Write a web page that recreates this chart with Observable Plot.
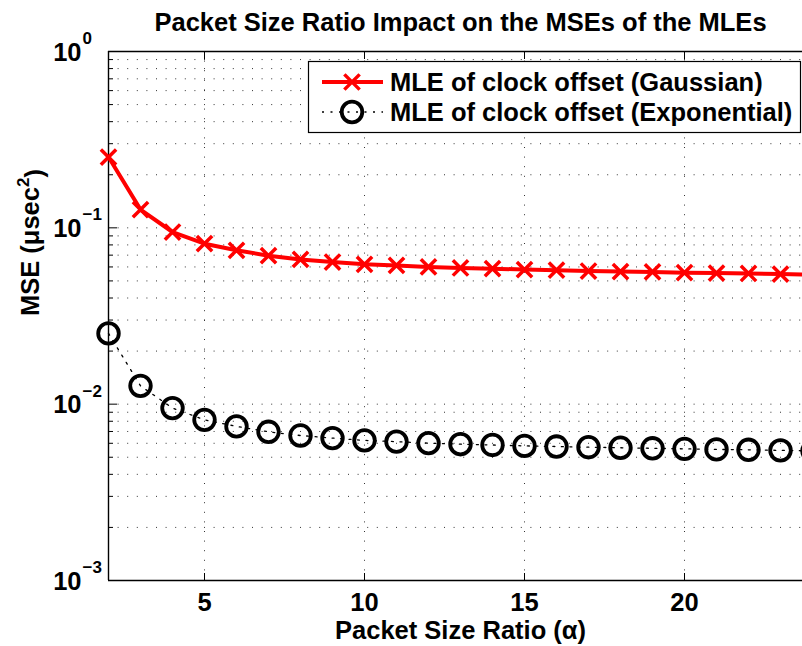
<!DOCTYPE html>
<html>
<head>
<meta charset="utf-8">
<script src="https://cdn.jsdelivr.net/npm/d3@7"></script>
<script src="https://cdn.jsdelivr.net/npm/@observablehq/plot@0.6"></script>
<style>
  html, body { margin: 0; padding: 0; background: #fff; overflow: hidden; }
  #chart { width: 802px; height: 646px; overflow: hidden; position: relative; }
  #chart svg { max-width: none !important; display: block; }
</style>
</head>
<body>
<div id="chart"></div>
<script>
// Packet size ratio (alpha) and the MSE of each clock-offset estimator
const alpha = [2, 3, 4, 5, 6, 7, 8, 9, 10, 11, 12, 13, 14, 15, 16, 17, 18, 19, 20, 21, 22, 23, 24];
const mseGaussian = [0.252, 0.127, 0.0947, 0.0813, 0.0746, 0.0695, 0.0662, 0.0640, 0.0621, 0.0612,
  0.0600, 0.0592, 0.0587, 0.0580, 0.0575, 0.0569, 0.0565, 0.0562, 0.0557, 0.0554, 0.0551, 0.0547, 0.0543];
const mseExponential = [0.0252, 0.0127, 0.00950, 0.00815, 0.00748, 0.00697, 0.00664, 0.00642, 0.00623, 0.00613,
  0.00601, 0.00593, 0.00587, 0.00580, 0.00575, 0.00570, 0.00566, 0.00562, 0.00558, 0.00554, 0.00551, 0.00547, 0.00543];

const seriesNames = ["MLE of clock offset (Gaussian)", "MLE of clock offset (Exponential)"];
const xTicks = [5, 10, 15, 20];
const yDecades = [1, 0.1, 0.01, 0.001];
const yExponents = ["0", "\u22121", "\u22122", "\u22123"];
const yMinor = [0.002, 0.003, 0.004, 0.005, 0.006, 0.007, 0.008, 0.009,
  0.02, 0.03, 0.04, 0.05, 0.06, 0.07, 0.08, 0.09,
  0.2, 0.3, 0.4, 0.5, 0.6, 0.7, 0.8, 0.9];
const titleText = "Packet Size Ratio Impact on the MSEs of the MLEs";
const xLabel = "Packet Size Ratio (\u03b1)";
const yLabelBase = "MSE (\u03bcsec";
const yLabelSup = "2";
const yLabelEnd = ")";

const font = "'Liberation Sans', Arial, Helvetica, sans-serif";
const big = 25.5;
const gauss = alpha.map((a, i) => ({alpha: a, mse: mseGaussian[i]}));
const expo = alpha.map((a, i) => ({alpha: a, mse: mseExponential[i]}));

const grid = {stroke: "#000", strokeOpacity: 0.8, strokeWidth: 1, strokeDasharray: "1,8.6"};
const edge = {stroke: "#000", strokeWidth: 1.4};
const noText = () => "";

const chart = Plot.plot({
  width: 812,
  height: 646,
  marginLeft: 108,
  marginRight: 0,
  marginTop: 51,
  marginBottom: 66,
  style: {fontFamily: font, background: "#fff", color: "#000"},
  x: {domain: [2, 24]},
  y: {type: "log", domain: [1e-3, 1]},
  marks: [
    // dotted grid: decades plus minor log steps, major x ticks
    Plot.gridY(yDecades.concat(yMinor), grid),
    Plot.gridX(xTicks, grid),
    // inward tick marks
    Plot.axisY(yDecades, {anchor: "left", tickSize: 9, dx: 9, tickFormat: noText, label: null}),
    Plot.axisY(yMinor, {anchor: "left", tickSize: 5, dx: 5, tickFormat: noText, label: null}),
    Plot.axisX(xTicks, {anchor: "bottom", tickSize: 7, dy: -7, tickFormat: noText, label: null}),
    Plot.axisX(xTicks, {anchor: "top", tickSize: 7, dy: 7, tickFormat: noText, label: null}),
    // axes box
    Plot.ruleX([2], edge),
    Plot.ruleY([1e-3, 1], edge),
    // tick labels
    Plot.text(yDecades, {y: d => d, text: () => "10", frameAnchor: "left", textAnchor: "end",
      dx: -27, dy: 1, fontSize: big, fontWeight: "bold", fill: "#000"}),
    Plot.text(yDecades, {y: d => d, text: (d, i) => yExponents[i], frameAnchor: "left", textAnchor: "start",
      dx: -26, dy: -13, fontSize: 17, fontWeight: "bold", fill: "#000"}),
    Plot.text(xTicks, {x: d => d, text: d => String(d), frameAnchor: "bottom", lineAnchor: "middle",
      dy: 22, fontSize: big, fontWeight: "bold", fill: "#000"}),
    // titles
    Plot.text([titleText], {frameAnchor: "top", lineAnchor: "middle", dy: -29, fontSize: big,
      fontWeight: "bold", fill: "#000"}),
    Plot.text([xLabel], {frameAnchor: "bottom", lineAnchor: "middle", dy: 50, fontSize: big,
      fontWeight: "bold", fill: "#000"}),
    Plot.text([yLabelBase], {frameAnchor: "left", lineAnchor: "middle", rotate: -90, dx: -78, fontSize: big,
      fontWeight: "bold", fill: "#000"}),
    // series
    Plot.line(gauss, {x: "alpha", y: "mse", stroke: "#ff0000", strokeWidth: 4}),
    Plot.dot(gauss, {x: "alpha", y: "mse", symbol: "times", r: 7, stroke: "#ff0000", strokeWidth: 3.5}),
    Plot.line(expo, {x: "alpha", y: "mse", stroke: "#000", strokeWidth: 1.3, strokeDasharray: "2,6.5"}),
    Plot.dot(expo, {x: "alpha", y: "mse", symbol: "circle", r: 10.3, stroke: "#000", strokeWidth: 3.8, fill: "none"})
  ]
});

chart.style.maxWidth = "none";
chart.style.overflow = "hidden";
document.getElementById("chart").appendChild(chart);

const svg = d3.select(chart);

// y-axis label gets a raised exponent on "sec"
svg.selectAll("text").filter(function() { return this.textContent === yLabelBase; })
  .each(function() {
    const t = d3.select(this);
    t.text(null);
    t.append("tspan").text(yLabelBase);
    t.append("tspan").attr("dy", "-0.55em").attr("font-size", 17).text(yLabelSup);
    t.append("tspan").attr("dy", "0.55em").text(yLabelEnd);
  });

// legend box in the upper right of the axes
const lg = svg.append("g").attr("font-family", font).attr("font-weight", "bold")
  .attr("font-size", big).attr("text-anchor", "start");
lg.append("rect").attr("x", 308.5).attr("y", 61.5).attr("width", 492).attr("height", 71)
  .attr("fill", "#fff").attr("stroke", "#000").attr("stroke-width", 1.2);
const rows = [
  {y: 82, name: seriesNames[0]},
  {y: 112, name: seriesNames[1]}
];
lg.append("line").attr("x1", 322).attr("x2", 383).attr("y1", rows[0].y).attr("y2", rows[0].y)
  .attr("stroke", "#ff0000").attr("stroke-width", 4);
lg.append("path").attr("d", d3.symbol(d3.symbolTimes, 7 * 7 * Math.PI)())
  .attr("transform", `translate(352,${rows[0].y})`).attr("fill", "none")
  .attr("stroke", "#ff0000").attr("stroke-width", 3.5);
lg.append("line").attr("x1", 322).attr("x2", 383).attr("y1", rows[1].y).attr("y2", rows[1].y)
  .attr("stroke", "#000").attr("stroke-width", 1.3).attr("stroke-dasharray", "2,6.5");
lg.append("circle").attr("cx", 352).attr("cy", rows[1].y).attr("r", 10.3)
  .attr("fill", "none").attr("stroke", "#000").attr("stroke-width", 3.8);
for (const r of rows) {
  lg.append("text").attr("x", 390).attr("y", r.y).attr("dy", "0.36em").attr("fill", "#000").text(r.name);
}
</script>
</body>
</html>
